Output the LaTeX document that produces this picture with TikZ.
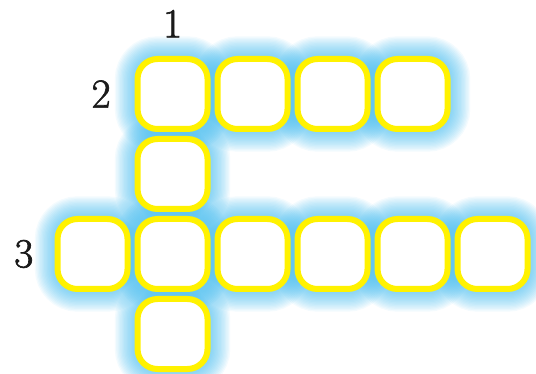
\documentclass[tikz,border=0pt]{standalone}
\usepackage{fontspec}
\newfontfamily\numfont{Latin Modern Roman}[FakeBold=1.6]
\usepackage{xcolor}
\definecolor{cellyellow}{HTML}{FFF200}
\definecolor{glowblue}{HTML}{3FB9EE}
\definecolor{numblack}{HTML}{1A1A1A}
\usetikzlibrary{positioning, backgrounds}
\tikzset{
  cell/.style ={rectangle, rounded corners=15pt, draw=cellyellow, line width=4.5pt, fill=white,
                minimum width=52.5pt, minimum height=52.5pt, inner sep=0pt, outer sep=0pt},
  glow/.style ={draw=glowblue, draw opacity=0.06, rounded corners=15pt},
  cnum/.style ={font=\numfont\fontsize{31}{31}\selectfont, text=numblack, inner sep=0pt},
}

\begin{document}
\begin{tikzpicture}[node distance=7.5pt]
  \useasboundingbox (0,0) rectangle (402pt,-280.5pt);
  % word 2 (across)
  \node[cell] (w2a) at (129.4pt,-70.5pt) {};
  \node[cell, right=of w2a] (w2b) {};
  \node[cell, right=of w2b] (w2c) {};
  \node[cell, right=of w2c] (w2d) {};
  % word 1 (down)
  \node[cell, below=of w2a] (w1b) {};
  \node[cell, below=of w1b] (w3b) {};
  \node[cell, below=of w3b] (w1d) {};
  % word 3 (across)
  \node[cell, left=of w3b] (w3a) {};
  \node[cell, right=of w3b] (w3c) {};
  \node[cell, right=of w3c] (w3d) {};
  \node[cell, right=of w3d] (w3e) {};
  \node[cell, right=of w3e] (w3f) {};
  % numbers
  \node[cnum, above=16pt of w2a] (n1) {1};
  \node[cnum, left=20pt of w2a] (n2) {2};
  \node[cnum, left=18pt of w3a] (n3) {3};
  \begin{scope}[on background layer]
    \foreach \c in {w2a,w2b,w2c,w2d,w1b,w3a,w3b,w3c,w3d,w3e,w3f,w1d}
      \foreach \w in {2,4,...,34}
        \draw[glow, line width={\w pt}] (\c.south west) rectangle (\c.north east);
  \end{scope}
\end{tikzpicture}
\end{document}
